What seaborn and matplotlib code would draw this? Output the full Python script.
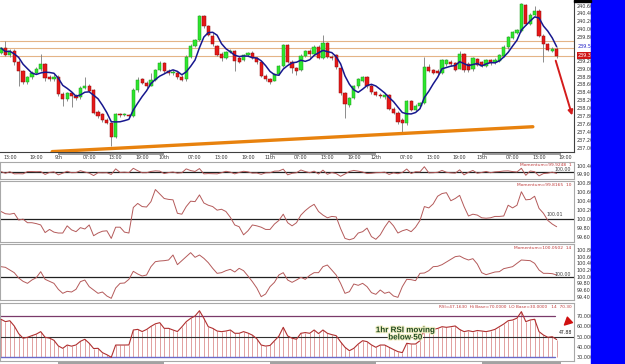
'''
Hourly candle chart with three momentum panels and an RSI panel,
values read off a trading-platform screenshot.
'''

import numpy as np
import pandas as pd
import matplotlib
matplotlib.use("Agg")
import matplotlib.pyplot as plt
import matplotlib.patheffects as pe
import matplotlib.transforms as mtransforms
from matplotlib.patches import Rectangle
import seaborn as sns

###### data #####################################################################
# one candle per hour, first candle = 8th 11:00
time_label_idx = [2, 8, 13, 20, 26, 32, 37, 44, 50, 56, 61, 68, 74, 80, 85, 92, 98, 104, 109, 116, 122, 128]
time_labels = ["13:00", "19:00", "9th", "07:00", "13:00", "19:00", "10th", "07:00", "13:00", "19:00", "11th",
               "07:00", "13:00", "19:00", "12th", "07:00", "13:00", "19:00", "13th", "07:00", "13:00", "19:00"]

open_ = [239.41, 239.53, 239.35, 239.46, 239.18, 238.93, 238.66, 238.78, 238.90, 238.98,
         239.12, 238.80, 238.74, 238.80, 238.37, 238.22, 238.38, 238.32, 238.28, 238.52,
         238.57, 238.45, 237.90, 237.85, 237.70, 237.63, 237.28, 237.85, 237.82, 237.83,
         237.80, 238.46, 238.73, 238.65, 238.57, 238.72, 238.97, 239.15, 238.93, 238.88,
         238.90, 238.80, 238.74, 239.30, 239.58, 239.72, 240.34, 240.07, 239.84, 239.58,
         239.38, 239.27, 239.43, 239.44, 239.26, 239.22, 239.35, 239.40, 239.27, 239.16,
         238.82, 238.73, 238.70, 238.87, 239.08, 239.60, 239.18, 239.01, 238.97, 239.33,
         239.46, 239.38, 239.56, 239.28, 239.64, 239.30, 239.34, 239.02, 238.38, 238.08,
         238.25, 238.55, 238.70, 238.78, 238.56, 238.40, 238.34, 238.28, 238.33, 237.98,
         237.88, 237.70, 237.62, 238.17, 237.96, 238.06, 238.12, 239.05, 238.97, 238.95,
         238.89, 239.12, 239.18, 239.14, 239.00, 239.36, 239.12, 238.98, 239.24, 239.16,
         239.08, 239.21, 239.16, 239.20, 239.33, 239.54, 239.78, 239.90, 239.95, 240.62,
         240.14, 240.36, 240.45, 239.84, 239.62, 239.46, 239.51]
high = [239.56, 239.69, 239.50, 239.50, 239.22, 238.96, 238.82, 238.93, 239.04, 239.37,
        239.15, 238.84, 238.86, 238.84, 238.42, 238.42, 238.42, 238.36, 238.56, 238.78,
        238.62, 238.48, 237.96, 237.88, 237.74, 237.66, 237.88, 237.88, 237.88, 237.86,
        238.50, 238.80, 238.76, 238.68, 238.90, 239.00, 239.20, 239.18, 238.98, 238.96,
        238.94, 238.84, 239.34, 239.62, 239.76, 240.36, 240.36, 240.10, 239.90, 239.60,
        239.42, 239.46, 239.50, 239.48, 239.32, 239.38, 239.43, 239.44, 239.30, 239.20,
        238.86, 238.76, 238.90, 239.10, 239.62, 239.62, 239.22, 239.04, 239.36, 239.48,
        239.50, 239.60, 239.60, 239.86, 239.68, 239.34, 239.38, 239.06, 238.42, 238.28,
        238.58, 238.76, 238.82, 238.82, 238.60, 238.44, 238.38, 238.38, 238.36, 238.02,
        237.92, 237.74, 238.20, 238.20, 238.10, 238.15, 239.30, 239.12, 239.00, 238.99,
        239.25, 239.24, 239.22, 239.18, 239.45, 239.40, 239.16, 239.30, 239.28, 239.20,
        239.24, 239.24, 239.26, 239.38, 239.60, 239.83, 239.96, 240.00, 240.66, 240.65,
        240.40, 240.60, 240.50, 239.88, 239.66, 239.55, 239.54]
low = [239.36, 239.33, 239.30, 239.10, 238.57, 238.62, 238.60, 238.74, 238.86, 238.95,
       238.70, 238.70, 238.70, 238.32, 238.05, 238.18, 238.04, 238.20, 238.24, 238.48,
       238.40, 237.84, 237.74, 237.66, 237.60, 237.03, 237.25, 237.78, 237.79, 237.76,
       237.78, 238.42, 238.60, 238.52, 238.55, 238.70, 238.94, 238.88, 238.85, 238.84,
       238.74, 238.68, 238.70, 239.28, 239.55, 239.70, 240.02, 239.84, 239.58, 239.33,
       239.19, 239.24, 239.40, 238.93, 239.15, 239.20, 239.32, 239.24, 239.12, 238.78,
       238.70, 238.62, 238.68, 238.84, 239.05, 239.15, 238.88, 238.85, 238.95, 239.30,
       239.25, 239.35, 239.24, 239.24, 239.27, 239.22, 239.00, 238.34, 237.74, 238.04,
       238.22, 238.52, 238.66, 238.52, 238.36, 238.30, 238.26, 238.24, 237.95, 237.84,
       237.60, 237.36, 237.58, 237.92, 237.93, 238.02, 238.10, 238.92, 238.86, 238.85,
       238.86, 239.08, 239.08, 238.94, 238.98, 238.92, 238.92, 238.95, 239.06, 239.04,
       239.05, 239.10, 239.12, 239.17, 239.30, 239.51, 239.75, 239.87, 239.92, 240.10,
       240.10, 240.33, 239.80, 239.18, 239.44, 239.43, 239.28]
close = [239.52, 239.35, 239.45, 239.18, 238.93, 238.66, 238.78, 238.90, 239.00, 239.12,
         238.76, 238.74, 238.80, 238.37, 238.22, 238.38, 238.30, 238.25, 238.52, 238.57,
         238.43, 237.87, 237.80, 237.70, 237.63, 237.28, 237.85, 237.82, 237.84, 237.80,
         238.46, 238.72, 238.65, 238.57, 238.72, 238.97, 239.15, 238.93, 238.88, 238.92,
         238.78, 238.72, 239.30, 239.58, 239.72, 240.34, 240.07, 239.86, 239.62, 239.35,
         239.27, 239.43, 239.46, 239.20, 239.18, 239.34, 239.41, 239.27, 239.16, 238.82,
         238.73, 238.67, 238.87, 239.08, 239.60, 239.18, 239.01, 238.95, 239.33, 239.46,
         239.38, 239.56, 239.28, 239.64, 239.30, 239.26, 239.04, 238.38, 238.10, 238.25,
         238.55, 238.73, 238.78, 238.56, 238.40, 238.34, 238.30, 238.33, 237.98, 237.88,
         237.64, 237.62, 238.17, 237.96, 238.06, 238.12, 239.05, 238.95, 238.89, 238.89,
         239.21, 239.21, 239.12, 238.97, 239.38, 238.96, 238.96, 239.26, 239.10, 239.07,
         239.21, 239.14, 239.22, 239.35, 239.56, 239.80, 239.93, 239.97, 240.64, 240.14,
         240.36, 240.45, 239.84, 239.62, 239.48, 239.51, 239.33]

mom1 = [100.05, 99.93, 100.04, 99.89, 99.90, 99.89, 100.05, 100.05, 100.04, 100.05,
        99.85, 99.99, 100.03, 99.82, 99.94, 100.07, 99.97, 99.98, 100.11, 100.02,
        99.94, 99.77, 99.97, 99.96, 99.97, 99.85, 100.24, 99.99, 100.01, 99.98,
        100.28, 100.11, 99.97, 99.97, 100.06, 100.10, 100.08, 99.91, 99.98, 100.02,
        99.94, 99.97, 100.24, 100.12, 100.06, 100.26, 99.89, 99.91, 99.90, 99.89,
        99.97, 100.07, 100.01, 99.89, 99.99, 100.07, 100.03, 99.94, 99.95, 99.86,
        99.96, 99.97, 100.08, 100.09, 100.22, 99.82, 99.93, 99.97, 100.16, 100.05,
        99.97, 100.08, 99.88, 100.15, 99.86, 99.98, 99.91, 99.72, 99.88, 100.06,
        100.13, 100.08, 100.02, 99.91, 99.93, 99.97, 99.98, 100.01, 99.85, 99.96,
        99.90, 99.99, 100.23, 99.91, 100.04, 100.03, 100.39, 99.96, 99.97, 100.00,
        100.13, 100.00, 99.96, 99.94, 100.17, 99.82, 100.00, 100.13, 99.93, 99.99,
        100.06, 99.97, 100.03, 100.05, 100.09, 100.10, 100.05, 100.02, 100.28, 99.79,
        100.09, 100.04, 99.75, 99.91, 99.94, 100.01, 99.92]
mom2 = [100.16, 100.11, 100.10, 100.12, 99.97, 99.99, 99.91, 99.91, 99.89, 99.86,
        99.69, 99.76, 99.70, 99.68, 99.68, 99.84, 99.75, 99.71, 99.80, 99.77,
        99.86, 99.62, 99.68, 99.72, 99.73, 99.56, 99.81, 99.81, 99.70, 99.68,
        100.25, 100.34, 100.27, 100.26, 100.38, 100.65, 100.55, 100.45, 100.43, 100.42,
        100.12, 100.10, 100.27, 100.39, 100.38, 100.53, 100.35, 100.30, 100.27, 100.19,
        100.21, 100.16, 100.03, 99.86, 99.82, 99.64, 99.73, 99.86, 99.84, 99.81,
        99.76, 99.76, 99.88, 99.96, 100.10, 99.91, 99.84, 99.91, 100.08, 100.18,
        100.26, 100.32, 100.16, 100.08, 100.02, 100.05, 100.04, 99.78, 99.56, 99.53,
        99.56, 99.68, 99.71, 99.79, 99.60, 99.54, 99.64, 99.81, 99.95, 99.84,
        99.68, 99.73, 99.76, 99.71, 99.81, 99.96, 100.27, 100.24, 100.33, 100.50,
        100.56, 100.58, 100.40, 100.45, 100.52, 100.27, 100.06, 100.10, 100.08, 100.02,
        100.01, 100.02, 100.05, 100.05, 100.06, 100.30, 100.24, 100.30, 100.60, 100.42,
        100.43, 100.50, 100.23, 100.12, 99.96, 99.88, 99.82]
mom3 = [100.30, 100.28, 100.20, 100.12, 99.96, 99.86, 99.80, 99.90, 99.97, 100.15,
        99.92, 99.86, 99.80, 99.62, 99.50, 99.56, 99.54, 99.62, 99.85, 99.90,
        99.70, 99.60, 99.50, 99.54, 99.42, 99.35, 99.66, 99.80, 99.81, 99.92,
        100.16, 100.08, 100.02, 100.05, 100.30, 100.45, 100.47, 100.48, 100.50, 100.65,
        100.36, 100.48, 100.60, 100.72, 100.58, 100.65, 100.55, 100.42, 100.25, 100.10,
        100.12, 100.18, 100.22, 100.14, 100.25, 100.18, 100.02, 99.85, 99.66, 99.40,
        99.48, 99.70, 99.83, 100.05, 100.12, 99.90, 99.83, 99.90, 99.98, 99.92,
        100.04, 100.12, 100.12, 100.30, 100.35, 100.20, 100.05, 99.80, 99.50, 99.55,
        99.78, 99.74, 99.80, 99.70, 99.52, 99.47, 99.60, 99.50, 99.54, 99.42,
        99.38, 99.70, 99.92, 99.91, 99.88, 100.10, 100.11, 100.18, 100.30, 100.31,
        100.36, 100.44, 100.52, 100.60, 100.62, 100.55, 100.50, 100.54, 100.38, 100.12,
        100.06, 100.10, 100.14, 100.15, 100.24, 100.27, 100.30, 100.40, 100.50, 100.49,
        100.48, 100.40, 100.20, 100.10, 100.10, 100.09, 100.05]
rsi = [66.9, 64.6, 65.5, 60.4, 53.0, 48.5, 49.4, 51.0, 52.5, 54.9,
       49.4, 48.6, 46.5, 41.0, 38.7, 41.9, 40.8, 42.0, 45.5, 47.5,
       43.6, 38.5, 38.7, 34.5, 32.5, 30.0, 41.9, 41.9, 41.9, 42.0,
       56.5, 57.1, 55.0, 57.0, 60.0, 62.5, 63.6, 58.1, 58.1, 56.5,
       55.0, 59.5, 64.6, 67.8, 70.1, 75.2, 67.8, 59.7, 58.1, 55.5,
       54.9, 55.5, 56.5, 53.3, 53.3, 54.9, 53.5, 51.5, 48.0, 41.9,
       40.9, 41.5, 46.0, 50.5, 59.1, 50.7, 48.5, 47.5, 53.3, 54.0,
       53.3, 56.5, 53.0, 56.5, 53.3, 52.0, 51.0, 45.0, 39.7, 36.4,
       38.7, 42.9, 46.1, 45.2, 42.0, 39.7, 41.9, 41.9, 39.7, 37.5,
       35.5, 34.5, 43.6, 42.9, 42.9, 46.1, 56.5, 57.1, 57.1, 58.0,
       59.7, 59.1, 59.7, 60.4, 57.0, 54.9, 55.8, 54.9, 56.0, 55.5,
       54.9, 55.8, 57.1, 59.7, 62.3, 65.5, 66.2, 68.0, 74.3, 64.6,
       66.2, 66.9, 54.9, 51.6, 49.4, 50.0, 47.2]

# drawn-in lines of the trader
sr_levels = [239.70, 239.52, 239.33]
trend_idx = [11.6, 120.6]
trend_price = [236.90, 237.53]
arrow_idx = [125.6, 129.7]
arrow_price = [239.27, 237.75]
# alternate days get a grey bar on the time scale (9th, 11th, 13th)
day_start_idx = [13, 61, 109]
day_end_idx = [37, 85, 127]

price_ticks = [240.6, 240.4, 240.2, 240.0, 239.8, 239.2, 239.0, 238.8, 238.6, 238.4,
               238.2, 238.0, 237.8, 237.6, 237.4, 237.2, 237.0]
mom1_ticks = [99.90, 100.46]
mom2_ticks = [99.6, 99.8, 100.0, 100.2, 100.4, 100.6, 100.8]
mom3_ticks = [99.4, 99.6, 99.8, 100.0, 100.2, 100.4, 100.6, 100.8]
rsi_ticks = [30, 40, 50, 60, 70]
################################################################################


def main():
    sns.set_style("white")
    plt.rcParams['font.family'] = ['DejaVu Sans']

    W, H = 625, 364
    fig = plt.figure(figsize=(W / 100, H / 100), dpi=100)
    fig.patch.set_facecolor("white")

    def panel(x0, y0, x1, y1):  # pixel box -> axes
        return fig.add_axes([x0 / W, 1 - y1 / H, (x1 - x0) / W, (y1 - y0) / H])

    idx = np.arange(len(close))
    xlim = (-0.23, 129.93)
    lab = dict(labelsize=3.5, labelcolor="#333333")

    def right_axis(ax, ticks, fmt):
        ax.yaxis.tick_right()
        ax.set_yticks(ticks)
        ax.set_yticklabels([fmt.format(t) for t in ticks])
        ax.tick_params(axis="y", length=0, pad=2, **lab)
        ax.set_xticks([])
        ax.set_xlim(*xlim)
        for s in ax.spines.values():
            s.set_color("#a8a8a8")
            s.set_linewidth(0.8)

    #### price panel ############################################################
    ax = panel(0, 0, 574, 152)
    o, h, l, c = map(np.array, (open_, high, low, close))
    up = c >= o
    body_lo = np.minimum(o, c)
    body_h = np.maximum(np.abs(c - o), 0.012)

    for lvl in sr_levels:
        ax.axhline(lvl, color="#e4b487", lw=0.8, zorder=1)
    ax.vlines(idx, l, h, color="#7a7a7a", lw=0.6, zorder=2)
    ax.bar(idx[up], body_h[up], bottom=body_lo[up], width=0.74, color="#2de62d",
           edgecolor="#1f9a1f", linewidth=0.35, zorder=3)
    ax.bar(idx[~up], body_h[~up], bottom=body_lo[~up], width=0.74, color="#e61818",
           edgecolor="#900c0c", linewidth=0.35, zorder=3)

    ma = pd.Series(close).rolling(5, min_periods=1).mean()  # the blue average on the chart
    sns.lineplot(x=idx, y=ma.values, ax=ax, color="#17178e", linewidth=1.1, zorder=4)
    sns.lineplot(x=trend_idx, y=trend_price, ax=ax, color="#e8820e", linewidth=2.4, zorder=4)
    ax.annotate("", xy=(arrow_idx[1], arrow_price[1]), xytext=(arrow_idx[0], arrow_price[0]),
                arrowprops=dict(arrowstyle="-|>", color="#d41c1c", lw=1.4, mutation_scale=7),
                annotation_clip=False, zorder=5)

    ax.set_ylim(236.89, 240.74)
    right_axis(ax, price_ticks, "{:.2f}")
    ax.set_xticks(time_label_idx)
    ax.set_xticklabels(time_labels)
    ax.tick_params(axis="x", length=0, pad=2.2, labelsize=3.4, labelcolor="#333333")
    ax.spines["top"].set_visible(False)
    ax.spines["left"].set_visible(False)
    ax.spines["bottom"].set_color("#404040")
    ax.spines["right"].set_color("#404040")

    # coloured price labels for the average and the last close
    yblend = mtransforms.blended_transform_factory(ax.transAxes, ax.transData)
    ax.text(1.006, ma.iloc[-1], "{:.2f}".format(ma.iloc[-1]), transform=yblend, fontsize=3.5,
            color="#2525c8", va="center", ha="left")
    ax.text(1.006, close[-1], "{:.2f}".format(close[-1]), transform=yblend, fontsize=3.5,
            color="white", va="center", ha="left",
            bbox=dict(boxstyle="square,pad=0.18", fc="#d01818", ec="none"))

    # grey day bars on the time scale
    xblend = mtransforms.blended_transform_factory(ax.transData, ax.transAxes)
    for a, b in zip(day_start_idx, day_end_idx):
        ax.plot([a, b], [-0.012, -0.012], transform=xblend, color="#9a9a9a", lw=1.4,
                clip_on=False, solid_capstyle="butt")

    #### momentum 1 ###########################################################
    ax1 = panel(0, 162, 574, 179)
    ax1.axhline(100, color="#202020", lw=0.9, zorder=1)
    sns.lineplot(x=idx, y=mom1, ax=ax1, color="#b45a5a", linewidth=0.7, zorder=2)
    ax1.set_ylim(99.53, 100.72)
    right_axis(ax1, mom1_ticks, "{:.2f}")
    ax1.text(0.995, 0.97, "Momentum=99.9248  1", transform=ax1.transAxes, ha="right", va="top",
             fontsize=3.2, color="#c03a3a")
    ax1.text(0.995, 0.55, "100.00", transform=ax1.transAxes, ha="right", va="center",
             fontsize=3.4, color="#404040")

    #### momentum 10 ##########################################################
    ax2 = panel(0, 181, 574, 242)
    ax2.axhline(100, color="#202020", lw=0.9, zorder=1)
    sns.lineplot(x=idx, y=mom2, ax=ax2, color="#b45a5a", linewidth=0.7, zorder=2)
    ax2.set_ylim(99.48, 100.84)
    right_axis(ax2, mom2_ticks, "{:.2f}")
    ax2.text(0.995, 0.97, "Momentum=99.8165  10", transform=ax2.transAxes, ha="right", va="top",
             fontsize=3.2, color="#c03a3a")
    ax2.text(123.6, 100.1, "100.01", ha="left", va="center", fontsize=3.4, color="#404040")

    #### momentum 14 ##########################################################
    ax3 = panel(0, 244, 574, 300)
    ax3.axhline(100, color="#202020", lw=0.9, zorder=1)
    sns.lineplot(x=idx, y=mom3, ax=ax3, color="#b45a5a", linewidth=0.7, zorder=2)
    ax3.set_ylim(99.30, 100.98)
    right_axis(ax3, mom3_ticks, "{:.2f}")
    ax3.text(0.995, 0.97, "Momentum=100.0502  14", transform=ax3.transAxes, ha="right", va="top",
             fontsize=3.2, color="#c03a3a")
    ax3.text(125.6, 100.08, "100.00", ha="left", va="center", fontsize=3.4, color="#404040")

    #### RSI ##################################################################
    ax4 = panel(0, 303, 574, 361)
    ax4.vlines(idx, 30, rsi, color="#dc9090", lw=0.6, zorder=1)
    sns.lineplot(x=idx, y=rsi, ax=ax4, color="#b03030", linewidth=0.8, zorder=3)
    ax4.axhline(70, xmax=0.967, color="#7a3a6a", lw=0.9, zorder=2)
    ax4.axhline(50, color="#303030", lw=0.8, zorder=2)
    ax4.axhline(30, xmax=0.967, color="#6a6ac8", lw=1.0, zorder=2)
    ax4.set_ylim(26.4, 82.7)
    right_axis(ax4, rsi_ticks, "{:.3f}")
    ax4.text(0.995, 0.97, "RSI=47.1630  Hi Base=70.0000  LO Base=30.0000   14  70.30",
             transform=ax4.transAxes, ha="right", va="top", fontsize=3.1, color="#c03a3a")
    ax4.text(0.706, 0.46, "1hr RSI moving\nbelow 50", transform=ax4.transAxes, ha="center",
             va="center", fontsize=5.8, fontweight="bold", color="#1e4a1e", linespacing=1.05,
             family=["Liberation Sans", "DejaVu Sans"],
             path_effects=[pe.withStroke(linewidth=1.6, foreground="#f2efc6")], zorder=5)
    ax4.annotate("", xy=(127.3, 59.5), xytext=(129.3, 67.5),
                 arrowprops=dict(arrowstyle="simple,head_width=0.9,head_length=0.9,tail_width=0.35",
                                 color="#d01010", mutation_scale=6),
                 annotation_clip=False, zorder=5)
    ax4.text(127.9, 53.8, "47.88", ha="center", va="center", fontsize=3.3, color="#202020")
    xb4 = mtransforms.blended_transform_factory(ax4.transData, ax4.transAxes)
    for a, b in zip(day_start_idx, day_end_idx):
        ax4.plot([a, b], [-0.03, -0.03], transform=xb4, color="#a0a0a0", lw=1.4,
                 clip_on=False, solid_capstyle="butt")

    #### window chrome: blue strip right, black cap on the price scale ########
    fig.add_artist(Rectangle((591 / W, 0), 34 / W, 1, transform=fig.transFigure,
                             color="#0000fe", zorder=10))
    fig.add_artist(Rectangle((574 / W, 1 - 2 / H), 17 / W, 2 / H, transform=fig.transFigure,
                             color="black", zorder=10))

    fig.savefig("out.png", dpi=100)


if __name__ == '__main__':
    main()
